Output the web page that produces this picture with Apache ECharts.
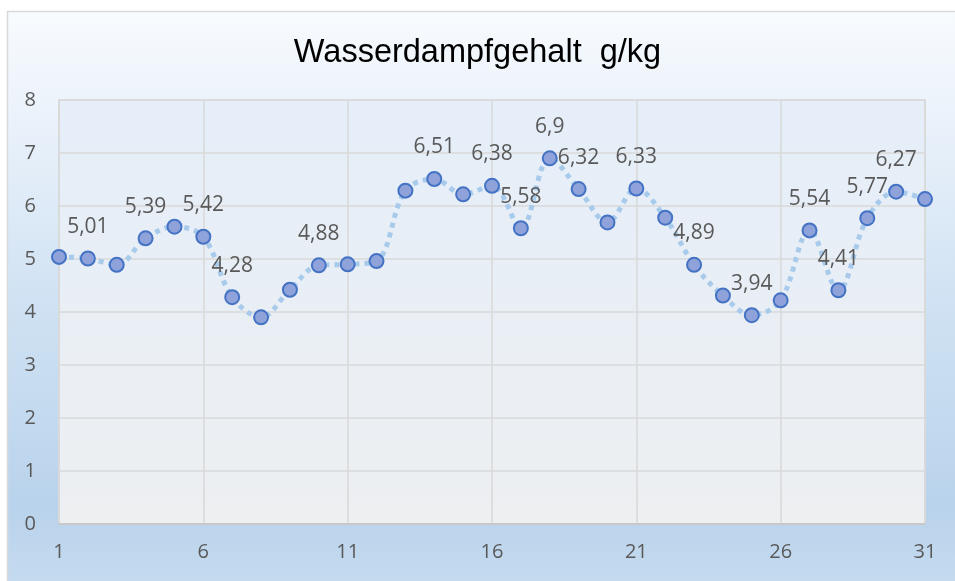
<!DOCTYPE html>
<html>
<head>
<meta charset="utf-8">
<script src="https://cdn.jsdelivr.net/npm/echarts@6/dist/echarts.min.js"></script>
<style>
html,body{margin:0;padding:0;background:#fff;}
#chart{width:955px;height:581px;}
</style>
</head>
<body>
<div id="chart"></div>
<script>
var title = 'Wasserdampfgehalt  g/kg';
var days = ['1','2','3','4','5','6','7','8','9','10','11','12','13','14','15','16','17','18','19','20','21','22','23','24','25','26','27','28','29','30','31'];
var values = [5.04,5.01,4.89,5.39,5.61,5.42,4.28,3.9,4.42,4.88,4.9,4.96,6.29,6.51,6.22,6.38,5.58,6.9,6.32,5.69,6.33,5.78,4.89,4.31,3.94,4.22,5.54,4.41,5.77,6.27,6.13];
var labelledDays = [2,4,6,7,10,14,16,17,18,19,21,23,25,27,28,29,30];
var yTicks = [0,1,2,3,4,5,6,7,8];

var seriesData = values.map(function(v, i){
  return { value: v, label: { show: labelledDays.indexOf(i + 1) >= 0 } };
});

var chart = echarts.init(document.getElementById('chart'), null, {renderer:'canvas'});
chart.setOption({
  animation: false,
  graphic: [{
    type: 'rect',
    z: -100,
    shape: { x: 7.5, y: 11.5, width: 960, height: 580 },
    style: {
      fill: new echarts.graphic.LinearGradient(0, 0, 0, 1, [
        {offset: 0, color: '#f8fbfe'},
        {offset: 0.2, color: '#e9f1fa'},
        {offset: 0.5, color: '#d0e2f3'},
        {offset: 0.85, color: '#b9d3ec'},
        {offset: 1, color: '#c6dbef'}
      ]),
      stroke: '#d9d9d9',
      lineWidth: 1.5
    }
  }],
  title: {
    text: title,
    left: 'center',
    top: 32,
    textStyle: { fontFamily: 'Liberation Sans', fontSize: 32.5, fontWeight: 'normal', color: '#000' }
  },
  grid: {
    left: 59, right: 30, top: 100, bottom: 57,
    show: true,
    borderColor: '#d9d9d9',
    borderWidth: 1.5,
    backgroundColor: new echarts.graphic.LinearGradient(0, 0, 0, 1, [
      {offset: 0, color: '#e5eef9'},
      {offset: 1, color: '#edeff1'}
    ])
  },
  xAxis: {
    type: 'category',
    data: days,
    boundaryGap: false,
    axisLine: { show: true, lineStyle: { color: '#c8c8c8', width: 2 } },
    axisTick: { show: false },
    splitLine: { show: true, interval: 4, lineStyle: { color: '#d9d9d9', width: 1.5 } },
    axisLabel: {
      interval: 4, margin: 18,
      fontFamily: 'Open Sans', fontSize: 20, color: '#595959'
    }
  },
  yAxis: {
    type: 'value',
    min: yTicks[0], max: yTicks[yTicks.length - 1], interval: 1,
    axisLine: { show: false },
    axisTick: { show: false },
    splitLine: { show: true, lineStyle: { color: '#d9d9d9', width: 1.5 } },
    axisLabel: {
      margin: 23,
      fontFamily: 'Open Sans', fontSize: 20, color: '#595959'
    }
  },
  series: [{
    type: 'line',
    data: seriesData,
    smooth: 0.35,
    symbol: 'circle',
    symbolSize: 14,
    lineStyle: { color: '#a9cbeb', width: 5, type: [5, 5], cap: 'butt' },
    itemStyle: { color: '#8fa3da', borderColor: '#4472c4', borderWidth: 2 },
    label: {
      position: 'top',
      distance: 13,
      fontFamily: 'Open Sans', fontSize: 21, color: '#595959',
      formatter: function(p){ return String(p.value).replace('.', ','); }
    },
    z: 5
  }]
});
</script>
</body>
</html>
